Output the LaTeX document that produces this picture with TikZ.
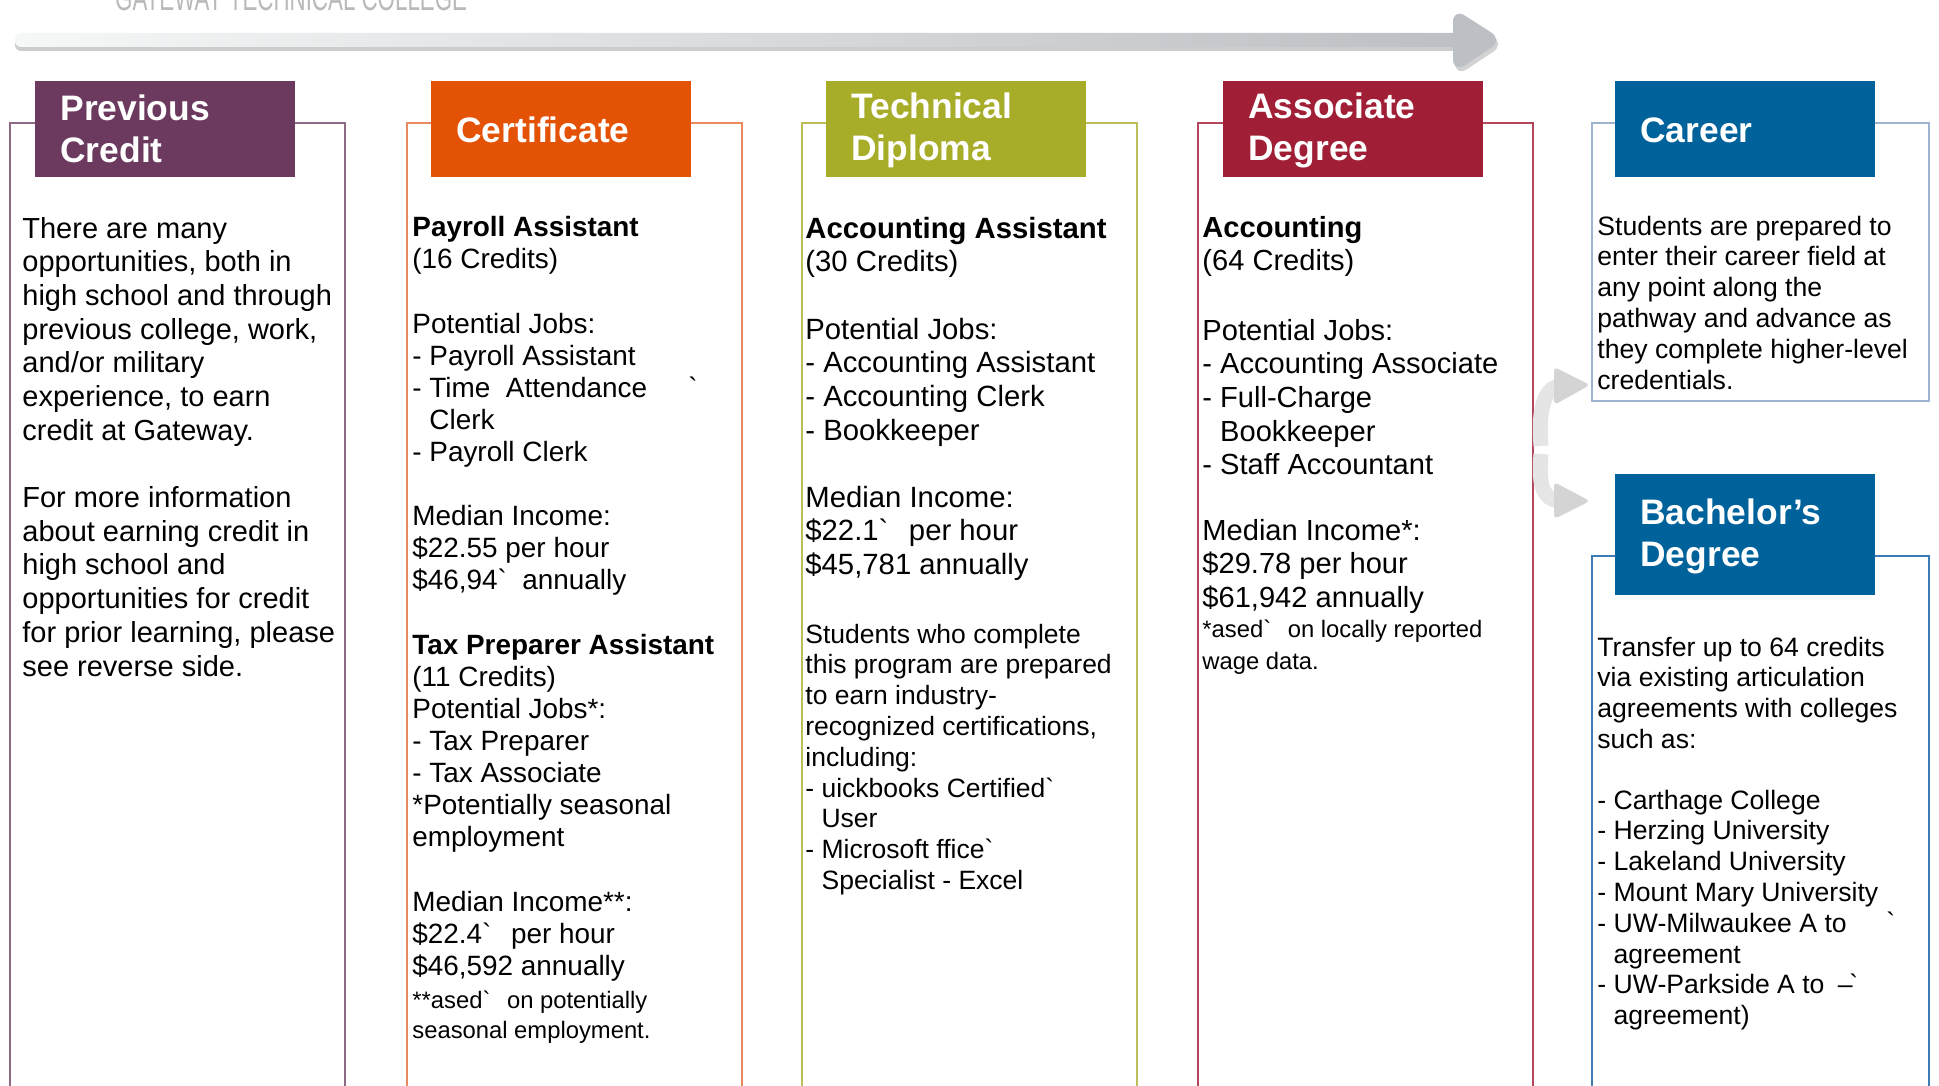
\documentclass[tikz,border=0pt]{standalone}
\usepackage{fontspec}
\setmainfont{Liberation Sans}
\newcommand{\myfs}[2]{\fontsize{#1}{#2}\selectfont}
\newcommand{\gravemark}{\textasciigrave}
\newcommand{\tblk}[1]{\begin{tabular}[t]{@{}l@{}}#1\end{tabular}}
\definecolor{cPurple}{HTML}{6C3A5F}
\definecolor{cOrange}{HTML}{E35205}
\definecolor{cOlive}{HTML}{A8AD29}
\definecolor{cRed}{HTML}{A11F36}
\definecolor{cBlue}{HTML}{00629B}
\definecolor{lPurple}{HTML}{8C6A86}
\definecolor{lOrange}{HTML}{E98A5F}
\definecolor{lOlive}{HTML}{BDBE5A}
\definecolor{lRed}{HTML}{B5475C}
\definecolor{lBlue}{HTML}{9DB3CF}
\definecolor{lBlueDark}{HTML}{3E7CB8}
\definecolor{arrowgray}{HTML}{BCC0C4}
\definecolor{arrowlight}{HTML}{F6F7F7}
\tikzset{
  hdr/.style={anchor=north west, inner sep=0pt, minimum width=130pt, minimum height=48pt, draw=none},
  hdrtxt/.style={anchor=base west, inner sep=0pt, text=white, font=\myfs{17.7pt}{21pt}\bfseries},
  colline/.style={line width=0.8pt},
  txtA/.style={anchor=base west, inner sep=0pt, font=\myfs{14.5pt}{16.85pt}},
  txtB/.style={anchor=base west, inner sep=0pt, font=\myfs{13.95pt}{16pt}},
  txtC/.style={anchor=base west, inner sep=0pt, font=\myfs{14.65pt}{16.85pt}},
  txtCs/.style={anchor=base west, inner sep=0pt, font=\myfs{13.25pt}{15.4pt}},
  txtD/.style={anchor=base west, inner sep=0pt, font=\myfs{14.55pt}{16.85pt}},
  txtsmall/.style={anchor=base west, inner sep=0pt, font=\myfs{11.9pt}{15.5pt}},
  txtE/.style={anchor=base west, inner sep=0pt, font=\myfs{13.3pt}{15.4pt}},
  curvearrow/.style={line width=7.5pt, draw=gray!20},
  curvehead/.style={fill=gray!34, draw=none, rounded corners=2pt},
}
\begin{document}
\begin{tikzpicture}[x=0.5pt,y=-0.5pt]
\useasboundingbox (0,0) rectangle (1939,1086);
\clip (0,0) rectangle (1939,1086);
\fill[white] (0,0) rectangle (1939,1086);

% title
\node[anchor=base west, inner sep=0pt, xscale=0.62, text=gray!55, font=\myfs{18pt}{20pt}] (title) at (115,11) {GATEWAY TECHNICAL COLLEGE};

% big top arrow
\fill[gray!40, rounded corners=3pt] (15,36) rectangle (1462,51);
\shade[left color=arrowlight, right color=arrowgray, rounded corners=3pt] (15,33) rectangle (1462,47);
\fill[gray!35, rounded corners=7pt] (1455,12) -- (1505,44) -- (1455,77) -- cycle;
\fill[arrowgray, rounded corners=7pt] (1453,8) -- (1503,40) -- (1453,73) -- cycle;

% column boxes
\draw[colline, draw=lPurple] (10,1100) |- (345,123) -- (345,1100);
\draw[colline, draw=lOrange] (407,1100) |- (742,123) -- (742,1100);
\draw[colline, draw=lOlive] (802,1100) |- (1137,123) -- (1137,1100);
\draw[colline, draw=lRed] (1198,1100) |- (1533,123) -- (1533,1100);
\draw[colline, draw=lBlue] (1592,123) rectangle (1929,401);
\draw[colline, draw=lBlueDark] (1592,1100) |- (1929,556) -- (1929,1100);

% headers
\node[hdr, fill=cPurple] (h1) at (35,81) {};
\node[hdr, fill=cOrange] (h2) at (431,81) {};
\node[hdr, fill=cOlive] (h3) at (826,81) {};
\node[hdr, fill=cRed] (h4) at (1223,81) {};
\node[hdr, fill=cBlue] (h5) at (1615,81) {};
\node[hdr, fill=cBlue, minimum height=60.5pt] (h6) at (1615,474) {};

\node[hdrtxt] (h1t) at (60,120) {\tblk{Previous\\Credit}};
\node[hdrtxt] (h2t) at (456,142) {Certificate};
\node[hdrtxt] (h3t) at (851,119) {\tblk{Technical\\Diploma}};
\node[hdrtxt] (h4t) at (1248,119) {\tblk{Associate\\Degree}};
\node[hdrtxt] (h5t) at (1640,142) {Career};
\node[hdrtxt] (h6t) at (1640,524) {\tblk{Bachelor’s\\Degree}};

% curved arrows
\coordinate (fork1) at (1541,446);
\coordinate (fork2) at (1541,454);
\draw[curvearrow] (fork1) .. controls (1538,410) and (1544,390) .. (1558,386);
\fill[curvehead] (1554,367) -- (1590,385) -- (1554,405) -- cycle;
\draw[curvearrow] (fork2) .. controls (1538,488) and (1544,498) .. (1558,501);
\fill[curvehead] (1554,482) -- (1590,501) -- (1554,519) -- cycle;

% column 1
\node[txtA] (c1a) at (22,238) {\tblk{There are many\\opportunities, both in\\high school and through\\previous college, work,\\and/or military\\experience, to earn\\credit at Gateway.}};
\node[txtA] (c1b) at (22,507.5) {\tblk{For more information\\about earning credit in\\high school and\\opportunities for credit\\for prior learning, please\\see reverse side.}};

% column 2
\node[txtB] (c2a) at (412,236) {\tblk{\textbf{Payroll Assistant}\\(16 Credits)}};
\node[txtB] (c2b) at (412,333) {\tblk{Potential Jobs:\\- Payroll Assistant\\- Time\ \ Attendance\\\hphantom{- }Clerk\\- Payroll Clerk}};
\node[txtB] (c2bm) at (688,397) {\gravemark};
\node[txtB] (c2c) at (412,525) {\tblk{Median Income:\\\$22.55 per hour\\\$46,94\gravemark\hspace{0.55em}annually}};
\node[txtB] (c2d) at (412,654) {\tblk{\textbf{Tax Preparer Assistant}\\(11 Credits)\\Potential Jobs*:\\- Tax Preparer\\- Tax Associate\\{}*Potentially seasonal\\employment}};
\node[txtB] (c2e) at (412,911) {\tblk{Median Income**:\\\$22.4\gravemark\hspace{0.7em}per hour\\\$46,592 annually}};
\node[txtsmall, font=\myfs{11.9pt}{15pt}] (c2f) at (412,1008) {\tblk{**ased\gravemark\hspace{0.7em}on potentially\\seasonal employment.}};

% column 3
\node[txtC] (c3a) at (805,238) {\tblk{\textbf{Accounting Assistant}\\(30 Credits)}};
\node[txtC] (c3b) at (805,339) {\tblk{Potential Jobs:\\- Accounting Assistant\\- Accounting Clerk\\- Bookkeeper}};
\node[txtC] (c3c) at (805,507) {\tblk{Median Income:\\\$22.1\gravemark\hspace{0.7em}per hour\\\$45,781 annually}};
\node[txtCs] (c3d) at (805,643) {\tblk{Students who complete\\this program are prepared\\to earn industry-\\recognized certifications,\\including:\\- uickbooks Certified\gravemark\\\hphantom{- }User\\- Microsoft ffice\gravemark\\\hphantom{- }Specialist - Excel}};

% column 4
\node[txtD] (c4a) at (1202,237) {\tblk{\textbf{Accounting}\\(64 Credits)}};
\node[txtD] (c4b) at (1202,340) {\tblk{Potential Jobs:\\- Accounting Associate\\- Full-Charge\\\hphantom{- }Bookkeeper\\- Staff Accountant}};
\node[txtD] (c4c) at (1202,540) {\tblk{Median Income*:\\\$29.78 per hour\\\$61,942 annually}};
\node[txtsmall, font=\myfs{11.9pt}{16pt}] (c4d) at (1202,637) {\tblk{*ased\gravemark\hspace{0.7em}on locally reported\\wage data.}};

% career
\node[txtE] (c5) at (1597,235) {\tblk{Students are prepared to\\enter their career field at\\any point along the\\pathway and advance as\\they complete higher-level\\credentials.}};

% bachelor
\node[txtE] (c6a) at (1597,656) {\tblk{Transfer up to 64 credits\\via existing articulation\\agreements with colleges\\such as:}};
\node[txtE] (c6b) at (1597,809) {\tblk{- Carthage College\\- Herzing University\\- Lakeland University\\- Mount Mary University\\- UW-Milwaukee A to\\\hphantom{- }agreement\\- UW-Parkside A to\hspace{0.5em}–\\\hphantom{- }agreement)}};
\node[txtE] (c6m1) at (1886,931) {\gravemark};
\node[txtE] (c6m2) at (1849,993) {\gravemark};
\end{tikzpicture}
\end{document}
